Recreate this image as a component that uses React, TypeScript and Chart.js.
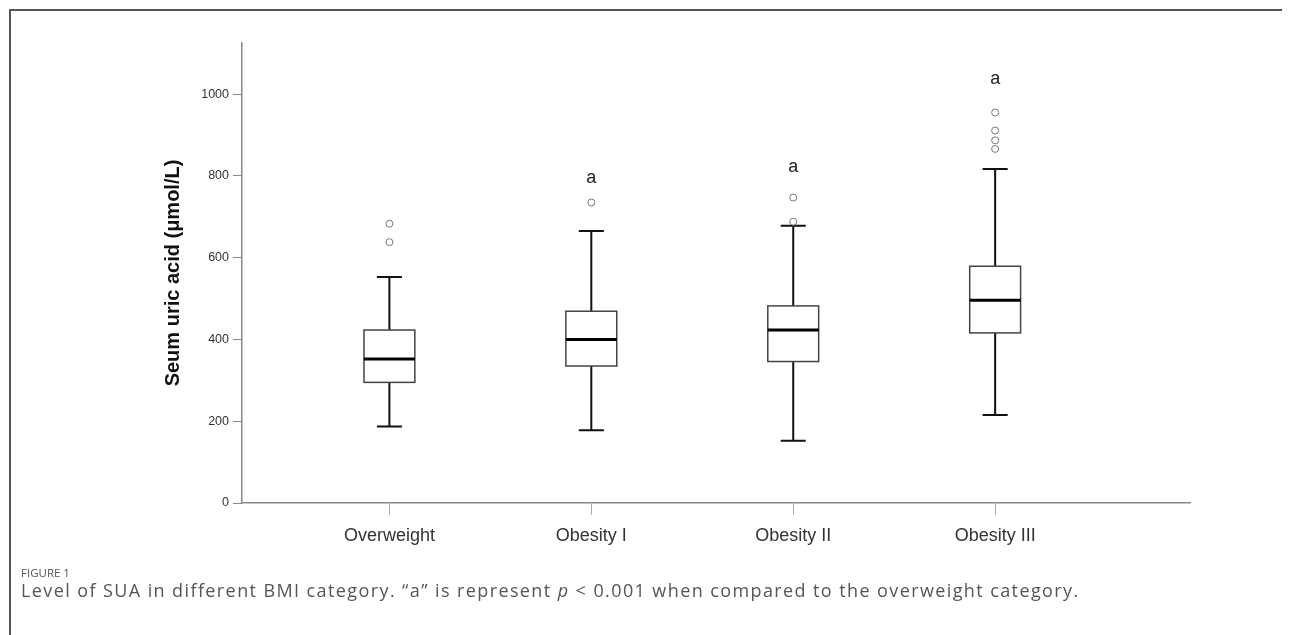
import React, { useEffect, useRef } from "react";
import { Chart, registerables } from "chart.js";

Chart.register(...registerables);

// ---------- data ----------
const categories = ["Overweight", "Obesity I", "Obesity II", "Obesity III"];
const whiskerLow = [187, 178, 152, 215];
const q1 = [295, 335, 346, 416];
const median = [352, 400, 423, 496];
const q3 = [423, 469, 482, 579];
const whiskerHigh = [553, 665, 678, 817];
const outliers = [[683, 638], [735], [747, 688], [955, 911, 887, 866]];
const sigLabels = ["", "a", "a", "a"];
const sigLabelValues = [0, 795, 822, 1037];
const yTicks = [0, 200, 400, 600, 800, 1000];
const yMin = 0;
const yMax = 1125;
const xMin = 0.27;
const xMax = 4.965;

const yTitle = "Seum uric acid (\u03bcmol/L)";

// ---------- styles ----------
const BOX_HALF = 0.126;
const CAP_HALF = 0.062;
const SANS = "'Liberation Sans', Arial, sans-serif";

const boxPlugin = {
  id: "boxplotDraw",
  beforeDatasetsDraw(chart: any) {
    const { ctx } = chart;
    const x = chart.scales.x;
    const y = chart.scales.y;
    ctx.save();
    categories.forEach((_, i) => {
      const pos = i + 1;
      const cx = x.getPixelForValue(pos);
      const bl = x.getPixelForValue(pos - BOX_HALF);
      const br = x.getPixelForValue(pos + BOX_HALF);
      const cl = x.getPixelForValue(pos - CAP_HALF);
      const cr = x.getPixelForValue(pos + CAP_HALF);
      const yLo = y.getPixelForValue(whiskerLow[i]);
      const yQ1 = y.getPixelForValue(q1[i]);
      const yMed = y.getPixelForValue(median[i]);
      const yQ3 = y.getPixelForValue(q3[i]);
      const yHi = y.getPixelForValue(whiskerHigh[i]);

      ctx.strokeStyle = "#111";
      ctx.lineWidth = 2;
      ctx.lineCap = "butt";
      ctx.beginPath();
      ctx.moveTo(cx, yLo);
      ctx.lineTo(cx, yQ1);
      ctx.moveTo(cx, yQ3);
      ctx.lineTo(cx, yHi);
      ctx.moveTo(cl, yLo);
      ctx.lineTo(cr, yLo);
      ctx.moveTo(cl, yHi);
      ctx.lineTo(cr, yHi);
      ctx.stroke();

      ctx.fillStyle = "#ffffff";
      ctx.fillRect(bl, yQ3, br - bl, yQ1 - yQ3);
      ctx.strokeStyle = "#444";
      ctx.lineWidth = 1.5;
      ctx.strokeRect(bl, yQ3, br - bl, yQ1 - yQ3);

      ctx.strokeStyle = "#000";
      ctx.lineWidth = 3;
      ctx.beginPath();
      ctx.moveTo(bl, yMed);
      ctx.lineTo(br, yMed);
      ctx.stroke();
    });
    ctx.restore();
  },
  afterDatasetsDraw(chart: any) {
    const { ctx } = chart;
    const x = chart.scales.x;
    const y = chart.scales.y;
    ctx.save();
    ctx.fillStyle = "#222";
    ctx.font = `18px ${SANS}`;
    ctx.textAlign = "center";
    ctx.textBaseline = "middle";
    sigLabels.forEach((t, i) => {
      if (!t) return;
      ctx.fillText(t, x.getPixelForValue(i + 1), y.getPixelForValue(sigLabelValues[i]));
    });
    ctx.restore();
  },
};

export default function App() {
  const ref = useRef<HTMLCanvasElement | null>(null);

  useEffect(() => {
    if (!ref.current) return;
    const points: { x: number; y: number }[] = [];
    outliers.forEach((list, i) => list.forEach((v) => points.push({ x: i + 1, y: v })));

    const chart = new Chart(ref.current, {
      type: "scatter",
      data: {
        datasets: [
          {
            data: points,
            pointRadius: 3.5,
            pointHoverRadius: 3.5,
            pointBorderColor: "#777",
            pointBackgroundColor: "#fff",
            pointBorderWidth: 1,
          },
        ],
      },
      options: {
        responsive: false,
        animation: false,
        events: [],
        layout: { padding: { top: 35, left: 0, right: 100, bottom: 15 } },
        plugins: { legend: { display: false }, tooltip: { enabled: false } },
        scales: {
          x: {
            type: "linear",
            position: "bottom",
            min: xMin,
            max: xMax,
            afterBuildTicks: (s: any) => {
              s.ticks = categories.map((_, i) => ({ value: i + 1 }));
            },
            afterFit: (s: any) => {
              s.height = 50;
            },
            ticks: {
              autoSkip: false,
              maxRotation: 0,
              padding: 10,
              color: "#333",
              font: { family: SANS, size: 18 },
              callback: (v: any) => categories[Math.round(Number(v)) - 1],
            },
            grid: {
              display: true,
              drawOnChartArea: false,
              drawTicks: true,
              tickLength: 12,
              color: "#aaa",
              lineWidth: 1,
            },
            border: { display: true, color: "#888", width: 1.5 },
          },
          y: {
            type: "linear",
            min: yMin,
            max: yMax,
            afterBuildTicks: (s: any) => {
              s.ticks = yTicks.map((v) => ({ value: v }));
            },
            afterFit: (s: any) => {
              s.width = 234;
            },
            ticks: {
              padding: 4,
              color: "#333",
              font: { family: SANS, size: 12.5 },
              callback: (v: any) => String(v),
            },
            grid: {
              display: true,
              drawOnChartArea: false,
              drawTicks: true,
              tickLength: 9,
              color: "#888",
              lineWidth: 1,
            },
            border: { display: true, color: "#888", width: 1.5 },
            title: {
              display: true,
              text: yTitle,
              color: "#111",
              font: { family: SANS, size: 20, weight: "bold" },
              padding: { top: 153, bottom: 0 },
            },
          },
        },
      },
      plugins: [boxPlugin],
    });
    return () => chart.destroy();
  }, []);

  return (
    <div style={{ position: "relative", width: 1282, height: 627, background: "#fff" }}>
      <div
        style={{
          position: "absolute",
          left: 1,
          top: 1,
          right: 0,
          bottom: 0,
          borderTop: "2px solid #555",
          borderLeft: "2px solid #555",
        }}
      />
      <canvas
        ref={ref}
        width={1282}
        height={560}
        style={{ position: "absolute", left: 0, top: 0, display: "block" }}
      />
      <div
        style={{
          position: "absolute",
          left: 13,
          top: 558,
          fontFamily: "'Open Sans', sans-serif",
          fontSize: 11.5,
          lineHeight: "14px",
          color: "#555",
        }}
      >
        FIGURE 1
      </div>
      <div
        style={{
          position: "absolute",
          left: 13,
          top: 572,
          fontFamily: "'Open Sans', sans-serif",
          fontSize: 18,
          lineHeight: "20px",
          color: "#555",
          letterSpacing: "1.4px",
          whiteSpace: "nowrap",
        }}
      >
        Level of SUA in different BMI category. {"\u201ca\u201d"} is represent <i>p</i> {"<"} 0.001 when compared to the overweight category.
      </div>
    </div>
  );
}
